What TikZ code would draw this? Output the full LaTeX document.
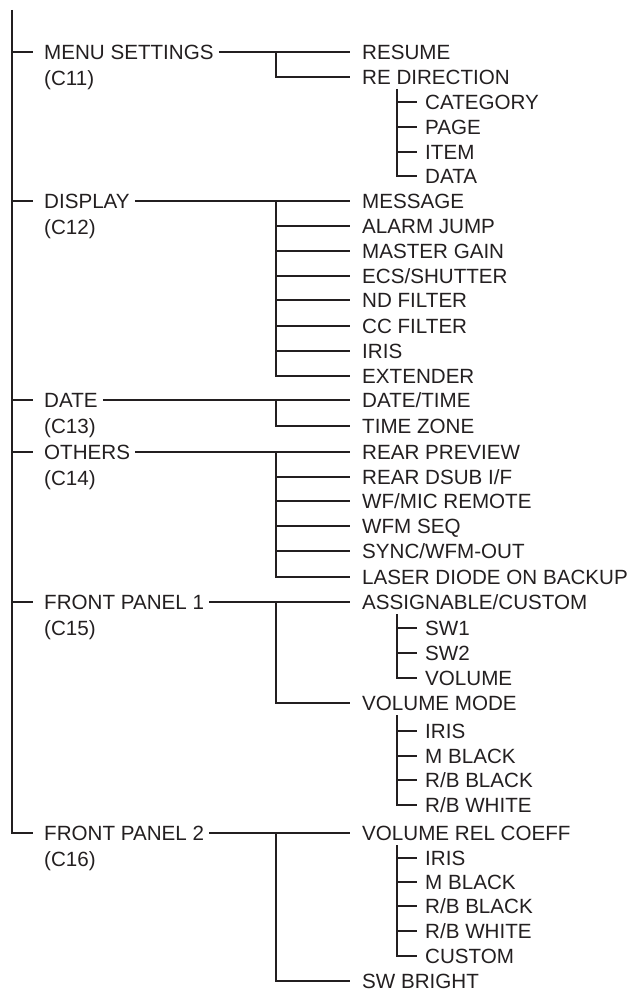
\documentclass[tikz,border=0pt]{standalone}
\usepackage{fontspec}
\setmainfont{Liberation Sans}
\definecolor{ink}{HTML}{231F20}
\begin{document}
\begin{tikzpicture}[x=1pt,y=-1pt,
  lbl/.style={anchor=west, inner sep=0pt, text height=14.7pt, text depth=0pt,
    font=\fontsize{20.6}{24}\selectfont, text=ink},
  ln/.style={draw=ink, line width=2pt}]
\useasboundingbox (0,0) rectangle (630,992);
% level 1
\node[lbl] (L1) at (44,52) {MENU SETTINGS};
\node[lbl] (C1) at (44,78) {(C11)};
\node[lbl] (L2) at (44,201) {DISPLAY};
\node[lbl] (C2) at (44,227) {(C12)};
\node[lbl] (L3) at (44,400) {DATE};
\node[lbl] (C3) at (44,426) {(C13)};
\node[lbl] (L4) at (44,452) {OTHERS};
\node[lbl] (C4) at (44,478) {(C14)};
\node[lbl] (L5) at (44,602) {FRONT PANEL 1};
\node[lbl] (C5) at (44,628) {(C15)};
\node[lbl] (L6) at (44,833) {FRONT PANEL 2};
\node[lbl] (C6) at (44,859) {(C16)};
% level 2
\node[lbl] (a1) at (362,52) {RESUME};
\node[lbl] (a2) at (362,77) {RE DIRECTION};
\node[lbl] (b1) at (362,201) {MESSAGE};
\node[lbl] (b2) at (362,226) {ALARM JUMP};
\node[lbl] (b3) at (362,251) {MASTER GAIN};
\node[lbl] (b4) at (362,276) {ECS/SHUTTER};
\node[lbl] (b5) at (362,300) {ND FILTER};
\node[lbl] (b6) at (362,326) {CC FILTER};
\node[lbl] (b7) at (362,351) {IRIS};
\node[lbl] (b8) at (362,376) {EXTENDER};
\node[lbl] (c1) at (362,400) {DATE/TIME};
\node[lbl] (c2) at (362,426) {TIME ZONE};
\node[lbl] (d1) at (362,452) {REAR PREVIEW};
\node[lbl] (d2) at (362,477) {REAR DSUB I/F};
\node[lbl] (d3) at (362,501) {WF/MIC REMOTE};
\node[lbl] (d4) at (362,526) {WFM SEQ};
\node[lbl] (d5) at (362,551) {SYNC/WFM-OUT};
\node[lbl] (d6) at (362,577) {LASER DIODE ON BACKUP};
\node[lbl] (e1) at (362,602) {ASSIGNABLE/CUSTOM};
\node[lbl] (e2) at (362,703) {VOLUME MODE};
\node[lbl] (f1) at (362,833) {VOLUME REL COEFF};
\node[lbl] (f2) at (362,981) {SW BRIGHT};
% level 3
\node[lbl] (a21) at (425,102) {CATEGORY};
\node[lbl] (a22) at (425,127) {PAGE};
\node[lbl] (a23) at (425,152) {ITEM};
\node[lbl] (a24) at (425,176) {DATA};
\node[lbl] (e11) at (425,628) {SW1};
\node[lbl] (e12) at (425,653) {SW2};
\node[lbl] (e13) at (425,678) {VOLUME};
\node[lbl] (e21) at (425,731) {IRIS};
\node[lbl] (e22) at (425,756) {M BLACK};
\node[lbl] (e23) at (425,780) {R/B BLACK};
\node[lbl] (e24) at (425,805) {R/B WHITE};
\node[lbl] (f11) at (425,858) {IRIS};
\node[lbl] (f12) at (425,882) {M BLACK};
\node[lbl] (f13) at (425,906) {R/B BLACK};
\node[lbl] (f14) at (425,931) {R/B WHITE};
\node[lbl] (f15) at (425,956) {CUSTOM};
% main spine
\coordinate (top) at (12,10);
\draw[ln] (top) |- ([xshift=-11pt]L6.west);
\foreach \n in {L1,L2,L3,L4,L5}
  \draw[ln] (top |- \n.west) -- ([xshift=-11pt]\n.west);
% level 1 -> level 2 groups
\foreach \p/\f/\l in {L1/a1/a2, L2/b1/b8, L3/c1/c2, L4/d1/d6, L5/e1/e2, L6/f1/f2}{
  \draw[ln] ([xshift=5pt]\p.east) -- ([xshift=-12pt]\f.west);
  \draw[ln] ([xshift=-86pt]\f.west) |- ([xshift=-12pt]\l.west);
}
\foreach \n in {b2,b3,b4,b5,b6,b7,d2,d3,d4,d5}
  \draw[ln] ([xshift=-86pt]\n.west) -- ([xshift=-12pt]\n.west);
% level 3 groups
\foreach \p/\l in {a2/a24, e1/e13, e2/e24, f1/f15}
  \draw[ln] ([xshift=35pt,yshift=-12pt]\p.west) |- ([xshift=-8pt]\l.west);
\foreach \p/\n in {a2/a21,a2/a22,a2/a23,e1/e11,e1/e12,e2/e21,e2/e22,e2/e23,f1/f11,f1/f12,f1/f13,f1/f14}
  \draw[ln] ([xshift=35pt]\p.west |- \n.west) -- ([xshift=-8pt]\n.west);
\end{tikzpicture}
\end{document}
